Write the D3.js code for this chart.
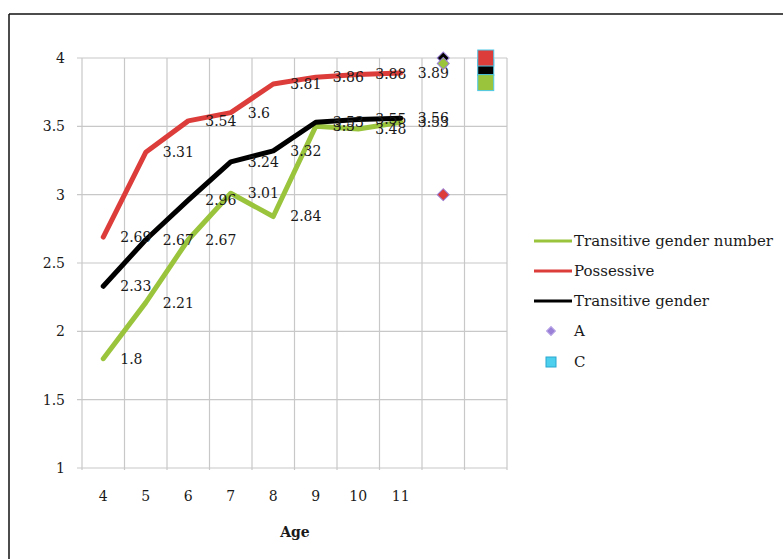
<!DOCTYPE html>
<html>
<head>
<meta charset="utf-8">
<script src="https://cdn.jsdelivr.net/npm/d3@7"></script>
<style>
    body { margin: 0; background: #fff; }
    text { font-family: "DejaVu Serif", serif; fill: #1a1a1a; }
</style>
</head>
<body>
<svg width="783" height="559"></svg>
<script>
// data
var ages = ["4", "5", "6", "7", "8", "9", "10", "11"];
var extraSlots = ["A", "C"];
var yTicks = [1, 1.5, 2, 2.5, 3, 3.5, 4];

var transGenderNumber = [1.8, 2.21, 2.67, 3.01, 2.84, 3.5, 3.48, 3.53];
var possessive = [2.69, 3.31, 3.54, 3.6, 3.81, 3.86, 3.88, 3.89];
var transGender = [2.33, 2.67, 2.96, 3.24, 3.32, 3.53, 3.55, 3.56];

// A and C points, one per series (green, red, black)
var pointsA = [3.96, 3.0, 4.0];
var pointsC = [3.82, 4.0, 3.93];

var seriesNames = ["Transitive gender number", "Possessive", "Transitive gender"];
var seriesColors = ["#9ac43c", "#dc3c3a", "#000000"];

var svg = d3.select('svg');

// frame
svg.append('line').attr('x1', 9).attr('y1', 14).attr('x2', 783).attr('y2', 14)
    .attr('stroke', '#111').attr('stroke-width', 1.5);
svg.append('line').attr('x1', 9).attr('y1', 14).attr('x2', 9).attr('y2', 559)
    .attr('stroke', '#111').attr('stroke-width', 1.5);

var x = d3.scaleBand()
    .domain(ages.concat(extraSlots))
    .range([82, 507]);

var y = d3.scaleLinear()
    .domain([1, 4])
    .range([468, 58]);

// gridlines
var grid = svg.append('g').attr('stroke', '#c8c8c8').attr('stroke-width', 1.2);
grid.selectAll('.h').data(yTicks).enter().append('line')
    .attr('x1', 77).attr('x2', 507)
    .attr('y1', d => y(d)).attr('y2', d => y(d));
var bounds = x.domain().map(d => x(d)).concat([x.range()[1]]);
grid.selectAll('.v').data(bounds).enter().append('line')
    .attr('x1', d => d).attr('x2', d => d)
    .attr('y1', 58).attr('y2', 470);

// y axis labels
var yAxis = svg.append('g')
    .attr('transform', 'translate(82,0)')
    .call(d3.axisLeft(y).tickValues(yTicks).tickSize(0).tickPadding(17).tickFormat(d3.format('')));
yAxis.select('.domain').remove();
yAxis.selectAll('text').attr('font-size', 14).attr('font-family', 'DejaVu Serif').attr('fill', '#1a1a1a');

// x axis labels
var xAxis = svg.append('g')
    .attr('transform', 'translate(0,468)')
    .call(d3.axisBottom(x).tickSize(0).tickPadding(23).tickFormat(d => ages.includes(d) ? d : ''));
xAxis.select('.domain').remove();
xAxis.selectAll('text').attr('font-size', 14).attr('font-family', 'DejaVu Serif').attr('fill', '#1a1a1a');

svg.append('text')
    .attr('x', 295).attr('y', 537)
    .attr('text-anchor', 'middle')
    .attr('font-size', 14).attr('font-weight', 'bold')
    .text('Age');

// lines
var line = d3.line()
    .x((d, i) => x(ages[i]) + x.bandwidth() / 2)
    .y(d => y(d));

var allSeries = [transGenderNumber, possessive, transGender];
allSeries.forEach(function (values, s) {
    svg.append('path')
        .datum(values)
        .attr('d', line)
        .attr('fill', 'none')
        .attr('stroke', seriesColors[s])
        .attr('stroke-width', 5)
        .attr('stroke-linejoin', 'round')
        .attr('stroke-linecap', 'round');
});

// data labels, right of each point
allSeries.forEach(function (values, s) {
    svg.append('g').selectAll('text').data(values).enter().append('text')
        .attr('x', (d, i) => x(ages[i]) + x.bandwidth() / 2 + 17)
        .attr('y', d => y(d))
        .attr('dy', '0.35em')
        .attr('font-size', 14)
        .text(d => d);
});

// A markers (diamonds) and C markers (squares)
var diamond = d3.symbol().type(d3.symbolSquare).size(72);
var drawOrder = [2, 0, 1];
drawOrder.forEach(function (s) {
    svg.append('path')
        .attr('d', diamond())
        .attr('transform', 'translate(' + (x('A') + x.bandwidth() / 2) + ',' + y(pointsA[s]) + ') rotate(45)')
        .attr('fill', seriesColors[s])
        .attr('stroke', '#9a80d6')
        .attr('stroke-width', 1);
});
drawOrder.forEach(function (s) {
    svg.append('rect')
        .attr('x', x('C') + x.bandwidth() / 2 - 8)
        .attr('y', y(pointsC[s]) - 8)
        .attr('width', 16).attr('height', 16)
        .attr('fill', seriesColors[s])
        .attr('stroke', '#4cc8e8')
        .attr('stroke-width', 1);
});

// legend
var legend = svg.append('g');
seriesNames.forEach(function (name, i) {
    var ly = 241 + i * 30;
    legend.append('line')
        .attr('x1', 534).attr('x2', 572).attr('y1', ly).attr('y2', ly)
        .attr('stroke', seriesColors[i]).attr('stroke-width', 3);
    legend.append('text')
        .attr('x', 574).attr('y', ly).attr('dy', '0.35em')
        .attr('font-size', 15)
        .text(name);
});
legend.append('path')
    .attr('d', d3.symbol().type(d3.symbolSquare).size(40)())
    .attr('transform', 'translate(551,331) rotate(45)')
    .attr('fill', '#9a80d6').attr('stroke', '#b8a4e6');
legend.append('text').attr('x', 574).attr('y', 331).attr('dy', '0.35em')
    .attr('font-size', 15).text('A');
legend.append('rect')
    .attr('x', 546).attr('y', 357).attr('width', 10).attr('height', 10)
    .attr('fill', '#4cd0ee').attr('stroke', '#2aa8d0');
legend.append('text').attr('x', 574).attr('y', 362).attr('dy', '0.35em')
    .attr('font-size', 15).text('C');
</script>
</body>
</html>
